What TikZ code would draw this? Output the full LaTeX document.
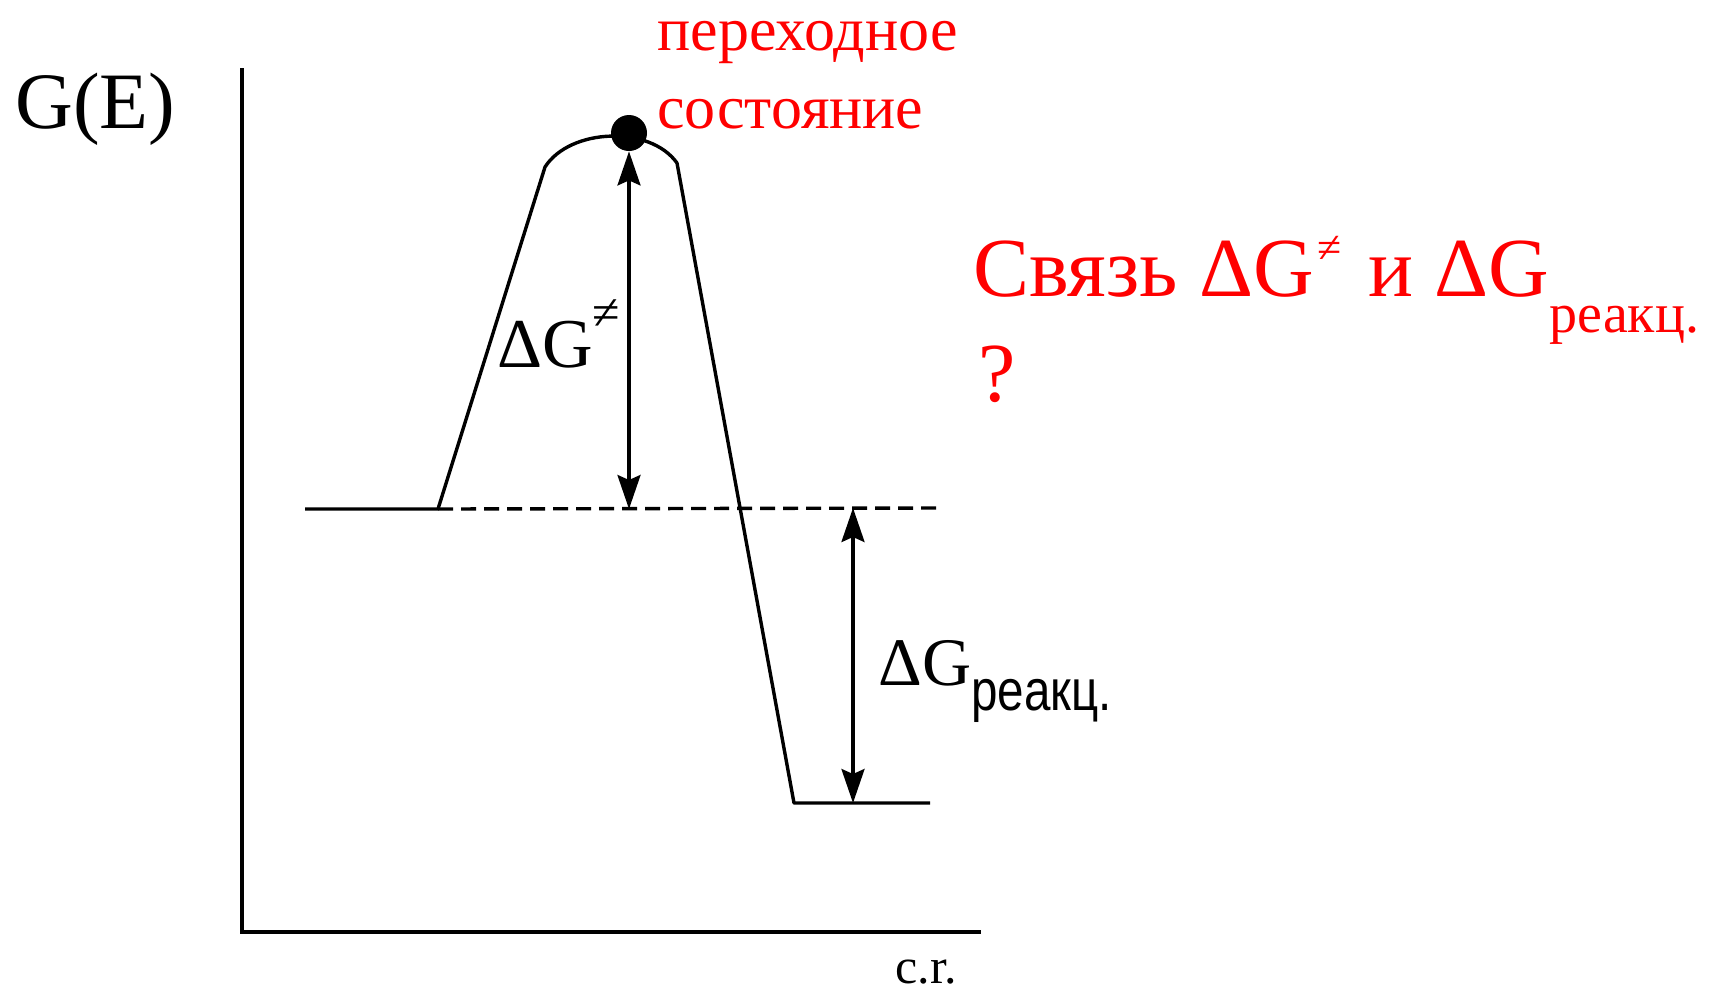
\documentclass[tikz,border=0pt]{standalone}
\usepackage{fontspec}
\setmainfont{Liberation Serif}
\setsansfont{Liberation Sans}
\usepackage{graphicx}
\usetikzlibrary{positioning,arrows.meta}

\begin{document}
\begin{tikzpicture}[x=0.5pt,y=-0.5pt,>={Stealth[length=17pt,width=11.5pt,inset=2.5pt]},
  ax/.style={line width=2.2pt},
  crv/.style={line width=1.7pt,line join=round},
  arr/.style={<->,line width=1.6pt},
  lbl/.style={inner sep=0pt,anchor=base west},
  rt/.style={lbl,text=red}]
  \useasboundingbox (0,0) rectangle (1709,993);
  % axes
  \coordinate (o) at (242,932);
  \coordinate (yt) at (242,68);
  \coordinate (xe) at (981,932);
  \draw[ax] (yt) -- (o) -- (xe);
  \node[lbl,font=\fontsize{40pt}{48pt}\selectfont] (ge) at (15,128) {G(E)};
  \node[lbl,font=\fontsize{25pt}{30pt}\selectfont] (cr) at (895,983) {c.r.};
  % energy profile
  \coordinate (r0) at (305,509);
  \coordinate (r1) at (438,509);
  \coordinate (a1) at (545,167);
  \coordinate (a2) at (677,163);
  \coordinate (p1) at (794,803);
  \coordinate (p2) at (930,803);
  \coordinate (d1) at (937,508);
  \draw[crv] (r0) -- (r1) -- (a1) .. controls (570,128) and (650,125) .. (a2) -- (p1) -- (p2);
  \draw[crv,dash pattern=on 7.5pt off 4pt] (r1) -- (d1);
  \node[circle,fill,inner sep=0pt,minimum size=18pt] (ts) at (629,133) {};
  \node[rt,font=\fontsize{31pt}{39pt}\selectfont] (tl1) at (657,50) {переходное};
  \node[rt,font=\fontsize{31pt}{39pt}\selectfont] (tl2) at (657,128) {состояние};
  % barrier and reaction energy
  \draw[arr] (ts.south) -- (ts.south |- r1);
  \node[lbl,font=\fontsize{35pt}{42pt}\selectfont] (dga) at (497,367)
       {ΔG\raisebox{19pt}{\fontsize{25pt}{25pt}\selectfont ≠}};
  \coordinate (g1) at (853,508);
  \coordinate (g2) at (853,803);
  \draw[arr] (g1) -- (g2);
  \node[lbl,font=\fontsize{34pt}{40pt}\selectfont] (dgr) at (878,685)
       {ΔG\raisebox{-12.5pt}{\scalebox{0.82}[1]{\sffamily\fontsize{29pt}{29pt}\selectfont реакц.}}};
  % question
  \node[rt,font=\fontsize{42pt}{50pt}\selectfont] (q1) at (973,296)
       {Связь ΔG\hspace{2pt}\raisebox{17pt}{\fontsize{22pt}{22pt}\selectfont ≠}\hspace{3pt} и ΔG\raisebox{-18pt}{\fontsize{28pt}{28pt}\selectfont реакц.}};
  \node[rt,font=\fontsize{42pt}{50pt}\selectfont] (q2) at (978,401) {?};
\end{tikzpicture}
\end{document}
